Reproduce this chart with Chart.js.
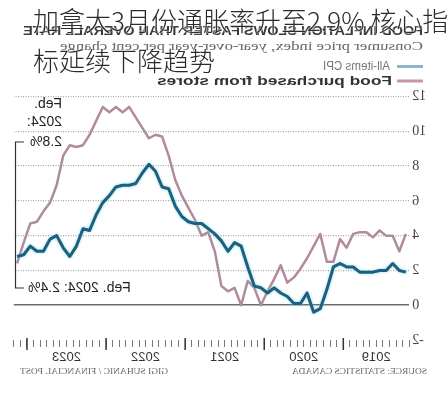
<!DOCTYPE html>
<html>
<head>
<meta charset="utf-8">
<script src="https://cdn.jsdelivr.net/npm/chart.js"></script>
<style>
  body { margin: 0; background: #fff; }
  #wrap { position: relative; width: 448px; height: 400px; overflow: hidden; }
  /* the reference is a mirrored copy of the original chart */
  #chart { position: absolute; left: 0; top: 0; transform: scaleX(-1); }
  #headline {
    position: absolute; left: 33px; top: 0;
    font-family: "Noto Sans CJK SC"; font-size: 26px; font-weight: 300;
    line-height: 40px; color: #2b2b2b; white-space: nowrap;
    text-shadow: 0 0 2px #fff, 0 0 2px #fff;
  }
</style>
</head>
<body>
<div id="wrap">
  <canvas id="chart" width="448" height="400"></canvas>
  <div id="headline">加拿大3月份通胀率升至2.9% 核心指<br>标延续下降趋势</div>
</div>
<script>
// Monthly, Mar 2019 - Feb 2024
var months = [
  'Mar 2019','Apr 2019','May 2019','Jun 2019','Jul 2019','Aug 2019','Sep 2019','Oct 2019','Nov 2019','Dec 2019',
  'Jan 2020','Feb 2020','Mar 2020','Apr 2020','May 2020','Jun 2020','Jul 2020','Aug 2020','Sep 2020','Oct 2020','Nov 2020','Dec 2020',
  'Jan 2021','Feb 2021','Mar 2021','Apr 2021','May 2021','Jun 2021','Jul 2021','Aug 2021','Sep 2021','Oct 2021','Nov 2021','Dec 2021',
  'Jan 2022','Feb 2022','Mar 2022','Apr 2022','May 2022','Jun 2022','Jul 2022','Aug 2022','Sep 2022','Oct 2022','Nov 2022','Dec 2022',
  'Jan 2023','Feb 2023','Mar 2023','Apr 2023','May 2023','Jun 2023','Jul 2023','Aug 2023','Sep 2023','Oct 2023','Nov 2023','Dec 2023',
  'Jan 2024','Feb 2024'
];

// All-items CPI, y/y %
var cpiAllItems = [
  1.9, 2.0, 2.4, 2.0, 2.0, 1.9, 1.9, 1.9, 2.2, 2.2,
  2.4, 2.2, 0.9, -0.2, -0.4, 0.7, 0.1, 0.1, 0.5, 0.7, 1.0, 0.7,
  1.0, 1.1, 2.2, 3.4, 3.6, 3.1, 3.7, 4.1, 4.4, 4.7, 4.7, 4.8,
  5.1, 5.7, 6.7, 6.8, 7.7, 8.1, 7.6, 7.0, 6.9, 6.9, 6.8, 6.3,
  5.9, 5.2, 4.3, 4.4, 3.4, 2.8, 3.3, 4.0, 3.8, 3.1, 3.1, 3.4,
  2.9, 2.8
];

// Food purchased from stores, y/y %
var foodStores = [
  4.1, 3.1, 4.0, 4.0, 4.3, 3.9, 4.2, 4.2, 4.1, 3.3,
  3.8, 2.5, 2.5, 4.1, 3.4, 2.7, 2.1, 1.6, 1.3, 2.3, 1.5, 0.8,
  0.0, 1.0, 1.4, 0.0, 1.0, 0.8, 1.1, 3.1, 4.2, 4.0, 4.9, 5.6,
  6.3, 7.2, 8.6, 9.7, 9.8, 9.6, 10.2, 10.8, 11.4, 11.1, 11.4, 11.1,
  11.4, 10.6, 9.8, 9.2, 9.1, 9.2, 8.6, 6.9, 5.9, 5.4, 4.8, 4.7,
  3.6, 2.4
];

var yearLabels = ['2019', '2020', '2021', '2022', '2023'];
var yearLabelAt = ['Jul 2019', 'Jun 2020', 'Jun 2021', 'Jun 2022', 'Jun 2023'];

var blue = '#1f5f7d';
var pink = '#b08b9c';

function fitText(ctx, text, x, y, w, font, color) {
  ctx.font = font;
  var m = ctx.measureText(text).width;
  ctx.save();
  ctx.translate(x, y);
  ctx.scale(w / m, 1);
  ctx.fillStyle = color;
  ctx.textAlign = 'left';
  ctx.textBaseline = 'middle';
  ctx.fillText(text, 0, 0);
  ctx.restore();
}

var decor = {
  id: 'decor',
  beforeDatasetDraw: function(chart, args) {
    if (args.index === 0) {
      chart.ctx.save();
      chart.ctx.shadowColor = 'rgba(120,215,235,0.9)';
      chart.ctx.shadowBlur = 3;
    }
  },
  afterDatasetDraw: function(chart, args) {
    if (args.index === 0) chart.ctx.restore();
  },
  afterDraw: function(chart) {
    var ctx = chart.ctx;
    var xs = chart.scales.x;
    var bottom = chart.chartArea.bottom;

    // longer ticks at the turn of each year
    ctx.save();
    ctx.strokeStyle = '#333';
    ctx.lineWidth = 1.5;
    months.forEach(function(m, i) {
      if (i > 0 && m.indexOf('Jan') === 0) {
        var x = (xs.getPixelForValue(i - 1) + xs.getPixelForValue(i)) / 2;
        ctx.beginPath();
        ctx.moveTo(x, bottom - 2);
        ctx.lineTo(x, bottom + 10);
        ctx.stroke();
      }
    });
    ctx.restore();

    // heading, subheading, legend
    fitText(ctx, 'FOOD INFLATION SLOWS FASTER THAN OVERALL RATE', 25, 31, 400, 'bold 13px "Liberation Sans"', '#3a3a3a');
    fitText(ctx, 'Consumer price index, year-over-year per cent change', 25, 47, 363, '13px "Liberation Serif"', '#666');

    ctx.save();
    ctx.lineWidth = 3;
    ctx.strokeStyle = '#8ab6cb';
    ctx.beginPath(); ctx.moveTo(25, 66.5); ctx.lineTo(51, 66.5); ctx.stroke();
    ctx.strokeStyle = '#c597a8';
    ctx.beginPath(); ctx.moveTo(25, 81); ctx.lineTo(51, 81); ctx.stroke();
    ctx.restore();
    fitText(ctx, 'All-items CPI', 58, 66.5, 67, '12px "Liberation Sans"', '#777');
    fitText(ctx, 'Food purchased from stores', 56, 81, 235, 'bold 13px "Liberation Sans"', '#333');

    // end-of-line notes
    var xe = xs.getPixelForValue(months.length - 1) + 1.6;
    ctx.save();
    ctx.fillStyle = '#222';
    ctx.font = '14px "Liberation Sans"';
    ctx.textBaseline = 'middle';
    ctx.textAlign = 'left';
    ctx.fillText('Feb.', 386, 104);
    ctx.fillText('2024:', 386, 122.5);
    ctx.fillText('2.8%', 386, 142);
    ctx.textAlign = 'right';
    ctx.fillText('Feb. 2024: 2.4%', 420, 288);
    ctx.strokeStyle = '#333';
    ctx.lineWidth = 1.2;
    ctx.beginPath();
    ctx.moveTo(xe - 8.5, 142);
    ctx.lineTo(xe, 142);
    ctx.lineTo(xe, 288);
    ctx.lineTo(xe - 8.5, 288);
    ctx.stroke();
    ctx.restore();

    // credits
    fitText(ctx, 'SOURCE: STATISTICS CANADA', 21, 372, 135, '9px "Liberation Serif"', '#666');
    fitText(ctx, 'GIGI SUHANIC / FINANCIAL POST', 280, 372, 148, '9px "Liberation Serif"', '#666');
  }
};

new Chart(document.getElementById('chart'), {
  type: 'line',
  data: {
    labels: months,
    datasets: [{
      label: 'All-items CPI',
      data: cpiAllItems,
      borderColor: blue,
      borderWidth: 3
    }, {
      label: 'Food purchased from stores',
      data: foodStores,
      borderColor: pink,
      borderWidth: 2.5
    }]
  },
  options: {
    responsive: false,
    animation: false,
    layout: { padding: { top: 96.5, right: 13.8, bottom: 0, left: 0 } },
    elements: {
      point: { radius: 0 },
      line: { tension: 0, borderJoinStyle: 'round', fill: false }
    },
    plugins: {
      legend: { display: false },
      tooltip: { enabled: false }
    },
    scales: {
      x: {
        offset: true,
        afterFit: function(s) { s.height = 60; },
        border: { display: false },
        grid: {
          offset: true,
          drawOnChartArea: false,
          tickLength: 7,
          tickColor: '#777',
          tickWidth: 1
        },
        ticks: {
          autoSkip: false,
          maxRotation: 0,
          padding: 3,
          labelOffset: 3.3,
          color: '#333',
          font: { family: 'Liberation Sans', size: 13 },
          callback: function(value) {
            var k = yearLabelAt.indexOf(months[value]);
            return k >= 0 ? yearLabels[k] : '';
          }
        }
      },
      y: {
        min: -2,
        max: 12,
        afterFit: function(s) { s.width = 38.8; },
        border: {
          display: false,
          dash: function(c) { return c.tick && c.tick.value === 0 ? [] : [1, 1.5]; }
        },
        grid: {
          drawTicks: false,
          color: function(c) {
            if (c.tick.value === 0) return '#6b6b6b';
            if (c.tick.value === -2) return 'rgba(0,0,0,0)';
            return '#a8a8a8';
          },
          lineWidth: function(c) { return c.tick.value === 0 ? 1.6 : 1.2; }
        },
        ticks: {
          stepSize: 2,
          padding: 3,
          color: '#444',
          font: { family: 'Liberation Serif', size: 14 }
        }
      }
    }
  },
  plugins: [decor]
});
</script>
</body>
</html>
